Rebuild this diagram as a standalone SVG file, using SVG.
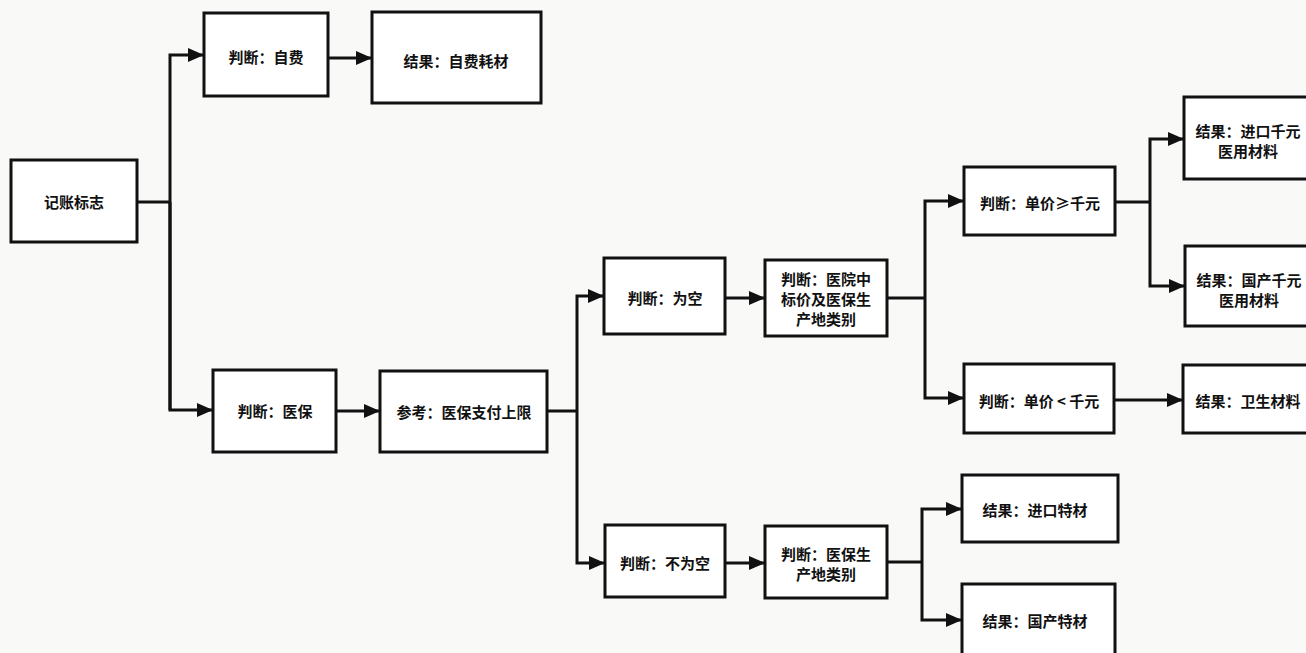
<svg xmlns="http://www.w3.org/2000/svg" width="1306" height="653" viewBox="0 0 1306 653">
<style>
.box{fill:#ffffff;stroke:#111;stroke-width:3}
.t{font-family:"Noto Sans CJK SC","Noto Sans",sans-serif;font-size:15px;font-weight:bold;fill:#111;text-anchor:middle;dominant-baseline:central}
.c{fill:none;stroke:#111;stroke-width:3}
</style>
<defs>
<marker id="ah" markerUnits="userSpaceOnUse" markerWidth="16" markerHeight="14" refX="15" refY="7" orient="auto">
<path d="M0,0 L16,7 L0,14 Z" fill="#111"/>
</marker>
</defs>
<rect width="1306" height="653" fill="#f9f9f8"/>
<g id="connectors">
<path class="c" d="M137,202 H170"/>
<path class="c" d="M170,410 V55 H203" marker-end="url(#ah)"/>
<path class="c" d="M170,202 V410 H212" marker-end="url(#ah)"/>
<path class="c" d="M328,58 H371" marker-end="url(#ah)"/>
<path class="c" d="M336,411 H379" marker-end="url(#ah)"/>
<path class="c" d="M547,411 H577"/>
<path class="c" d="M577,411 V296 H603" marker-end="url(#ah)"/>
<path class="c" d="M577,411 V563 H604" marker-end="url(#ah)"/>
<path class="c" d="M725,298 H764" marker-end="url(#ah)"/>
<path class="c" d="M725,563 H764" marker-end="url(#ah)"/>
<path class="c" d="M887,298 H925"/>
<path class="c" d="M925,298 V201 H963" marker-end="url(#ah)"/>
<path class="c" d="M925,298 V398 H963" marker-end="url(#ah)"/>
<path class="c" d="M1115,202 H1150"/>
<path class="c" d="M1150,202 V139 H1183" marker-end="url(#ah)"/>
<path class="c" d="M1150,202 V286 H1184" marker-end="url(#ah)"/>
<path class="c" d="M1114,400 H1182" marker-end="url(#ah)"/>
<path class="c" d="M887,562 H922"/>
<path class="c" d="M922,562 V509 H961" marker-end="url(#ah)"/>
<path class="c" d="M922,562 V620 H961" marker-end="url(#ah)"/>
</g>
<g id="n_jizhang"><rect class="box" x="11" y="160" width="126" height="82"/><text class="t" x="74" y="201">记账标志</text></g>
<g id="n_zifei"><rect class="box" x="204" y="13" width="124" height="83"/><text class="t" x="266" y="56">判断：自费</text></g>
<g id="n_zifeihaocai"><rect class="box" x="372" y="12" width="169" height="91"/><text class="t" x="456" y="60">结果：自费耗材</text></g>
<g id="n_yibao"><rect class="box" x="213" y="370" width="123" height="82"/><text class="t" x="275" y="410">判断：医保</text></g>
<g id="n_cankao"><rect class="box" x="380" y="371" width="167" height="81"/><text class="t" x="464" y="411">参考：医保支付上限</text></g>
<g id="n_weikong"><rect class="box" x="604" y="258" width="121" height="76"/><text class="t" x="665" y="297">判断：为空</text></g>
<g id="n_yiyuan"><rect class="box" x="765" y="260" width="122" height="76"/><text class="t" x="826" y="278">判断：医院中</text><text class="t" x="826" y="298">标价及医保生</text><text class="t" x="826" y="318">产地类别</text></g>
<g id="n_ge"><rect class="box" x="964" y="167" width="151" height="68"/><text class="t" x="1040" y="202">判断：单价≥千元</text></g>
<g id="n_jinkouqian"><rect class="box" x="1184" y="97" width="130" height="82"/><text class="t" x="1248" y="130">结果：进口千元</text><text class="t" x="1248" y="150">医用材料</text></g>
<g id="n_guochanqian"><rect class="box" x="1185" y="246" width="130" height="80"/><text class="t" x="1249" y="279">结果：国产千元</text><text class="t" x="1249" y="299">医用材料</text></g>
<g id="n_lt"><rect class="box" x="964" y="364" width="150" height="69"/><text class="t" x="1039" y="400">判断：单价 &lt; 千元</text></g>
<g id="n_weisheng"><rect class="box" x="1183" y="365" width="132" height="68"/><text class="t" x="1248" y="400">结果：卫生材料</text></g>
<g id="n_buweikong"><rect class="box" x="605" y="525" width="120" height="72"/><text class="t" x="665" y="562">判断：不为空</text></g>
<g id="n_yibaochandi"><rect class="box" x="765" y="526" width="122" height="72"/><text class="t" x="826" y="553">判断：医保生</text><text class="t" x="826" y="573">产地类别</text></g>
<g id="n_jinkoute"><rect class="box" x="962" y="475" width="156" height="67"/><text class="t" x="1035" y="509">结果：进口特材</text></g>
<g id="n_guochante"><rect class="box" x="962" y="584" width="153" height="80"/><text class="t" x="1035" y="620">结果：国产特材</text></g>
</svg>
